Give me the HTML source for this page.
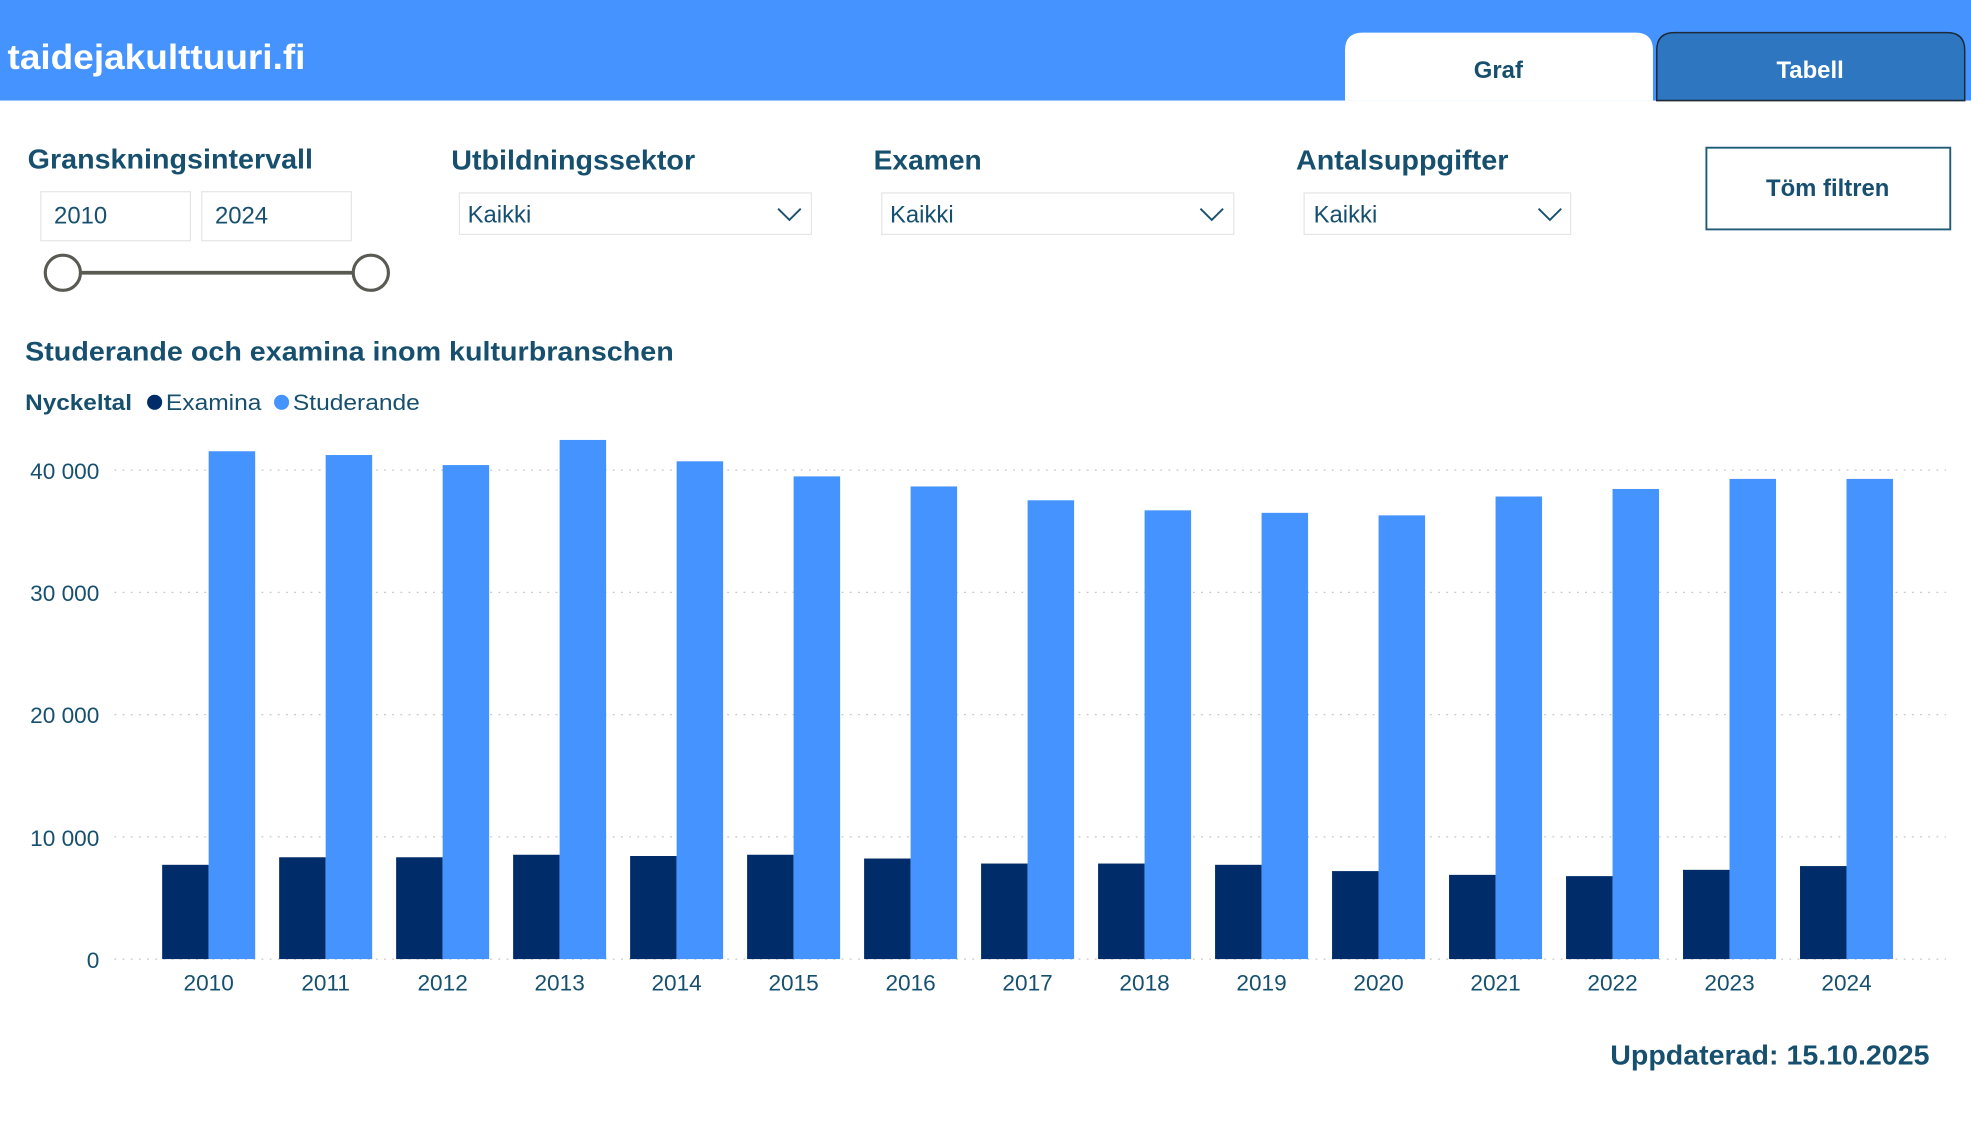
<!DOCTYPE html>
<html><head><meta charset="utf-8"><style>
html,body{margin:0;padding:0;background:#fff;}
svg{display:block;}
text{font-family:"Liberation Sans",Arial,sans-serif;}
</style></head><body>
<svg width="1971" height="1125" viewBox="0 0 1568 895" preserveAspectRatio="none" xmlns="http://www.w3.org/2000/svg">
<rect x="0" y="0" width="1568" height="80" fill="#4493FF"/>
<text x="6" y="55" font-size="28" font-weight="bold" fill="#fff" textLength="237" lengthAdjust="spacingAndGlyphs">taidejakulttuuri.fi</text>
<path d="M1070 80 V40 Q1070 26 1084 26 H1301 Q1315 26 1315 40 V80 Z" fill="#fff"/>
<text x="1192" y="62" font-size="19" font-weight="bold" fill="#17506F" text-anchor="middle">Graf</text>
<path d="M1318 80 V40 Q1318 26 1332 26 H1549 Q1563 26 1563 40 V80 Z" fill="#2E76C0" stroke="#1c2a3a" stroke-width="1.2"/>
<text x="1440" y="62" font-size="19" font-weight="bold" fill="#fff" text-anchor="middle">Tabell</text>

<g fill="#17506F" font-weight="bold" font-size="22">
<text x="22" y="134" textLength="227" lengthAdjust="spacingAndGlyphs">Granskningsintervall</text>
<text x="359" y="135" textLength="194" lengthAdjust="spacingAndGlyphs">Utbildningssektor</text>
<text x="695" y="135" textLength="86" lengthAdjust="spacingAndGlyphs">Examen</text>
<text x="1031" y="135" textLength="169" lengthAdjust="spacingAndGlyphs">Antalsuppgifter</text>
</g>
<rect x="32.5" y="152.5" width="119" height="39" fill="#fff" stroke="#e6e6e6"/>
<rect x="160.5" y="152.5" width="119" height="39" fill="#fff" stroke="#e6e6e6"/>
<text x="43" y="178" font-size="19" fill="#17506F">2010</text>
<text x="171" y="178" font-size="19" fill="#17506F">2024</text>
<line x1="64" y1="217" x2="281" y2="217" stroke="#5a5a55" stroke-width="3"/>
<circle cx="50" cy="217" r="14" fill="#fff" stroke="#5a5a55" stroke-width="2.5"/>
<circle cx="295" cy="217" r="14" fill="#fff" stroke="#5a5a55" stroke-width="2.5"/>

<g font-size="19" fill="#17506F">
<rect x="365.5" y="153.5" width="280" height="33" fill="#fff" stroke="#e6e6e6"/>
<text x="372" y="177">Kaikki</text>
<polyline points="619,166 628,175 637,166" fill="none" stroke="#17506F" stroke-width="1.5"/>
<rect x="701.5" y="153.5" width="280" height="33" fill="#fff" stroke="#e6e6e6"/>
<text x="708" y="177">Kaikki</text>
<polyline points="955,166 964,175 973,166" fill="none" stroke="#17506F" stroke-width="1.5"/>
<rect x="1037.5" y="153.5" width="212" height="33" fill="#fff" stroke="#e6e6e6"/>
<text x="1045" y="177">Kaikki</text>
<polyline points="1224,166 1233,175 1242,166" fill="none" stroke="#17506F" stroke-width="1.5"/>
</g>
<rect x="1357.5" y="117.5" width="194" height="65" fill="#fff" stroke="#1f5a78" stroke-width="1.5"/>
<text x="1454" y="156" font-size="19" font-weight="bold" fill="#17506F" text-anchor="middle">Töm filtren</text>

<text x="20" y="287" font-size="21" font-weight="bold" fill="#17506F" textLength="516" lengthAdjust="spacingAndGlyphs">Studerande och examina inom kulturbranschen</text>
<text x="20" y="326" font-size="18" font-weight="bold" fill="#17506F" textLength="85" lengthAdjust="spacingAndGlyphs">Nyckeltal</text>
<circle cx="123" cy="320" r="6" fill="#002D6A"/>
<text x="132" y="326" font-size="18" fill="#17506F" textLength="76" lengthAdjust="spacingAndGlyphs">Examina</text>
<circle cx="224" cy="320" r="6" fill="#4493FF"/>
<text x="233" y="326" font-size="18" fill="#17506F" textLength="101" lengthAdjust="spacingAndGlyphs">Studerande</text>

<g stroke="#c8c8c8" stroke-width="1" stroke-dasharray="1.5,5">
<line x1="91" y1="374" x2="1548" y2="374"/>
<line x1="91" y1="471.25" x2="1548" y2="471.25"/>
<line x1="91" y1="568.5" x2="1548" y2="568.5"/>
<line x1="91" y1="665.75" x2="1548" y2="665.75"/>
<line x1="91" y1="763" x2="1548" y2="763"/>
</g>
<g font-size="18" fill="#17506F" text-anchor="end">
<text x="79" y="381">40 000</text>
<text x="79" y="478">30 000</text>
<text x="79" y="575">20 000</text>
<text x="79" y="673">10 000</text>
<text x="79" y="770">0</text>
</g>
<g fill="#002D6A">
<rect x="129" y="688" width="37" height="75"/>
<rect x="222.07" y="682" width="37" height="81"/>
<rect x="315.14" y="682" width="37" height="81"/>
<rect x="408.21" y="680" width="37" height="83"/>
<rect x="501.28" y="681" width="37" height="82"/>
<rect x="594.35" y="680" width="37" height="83"/>
<rect x="687.42" y="683" width="37" height="80"/>
<rect x="780.49" y="687" width="37" height="76"/>
<rect x="873.56" y="687" width="37" height="76"/>
<rect x="966.63" y="688" width="37" height="75"/>
<rect x="1059.7" y="693" width="37" height="70"/>
<rect x="1152.77" y="696" width="37" height="67"/>
<rect x="1245.84" y="697" width="37" height="66"/>
<rect x="1338.91" y="692" width="37" height="71"/>
<rect x="1431.98" y="689" width="37" height="74"/>
</g>
<g fill="#4493FF">
<rect x="166" y="359" width="37" height="404"/>
<rect x="259.07" y="362" width="37" height="401"/>
<rect x="352.14" y="370" width="37" height="393"/>
<rect x="445.21" y="350" width="37" height="413"/>
<rect x="538.28" y="367" width="37" height="396"/>
<rect x="631.35" y="379" width="37" height="384"/>
<rect x="724.42" y="387" width="37" height="376"/>
<rect x="817.49" y="398" width="37" height="365"/>
<rect x="910.56" y="406" width="37" height="357"/>
<rect x="1003.63" y="408" width="37" height="355"/>
<rect x="1096.7" y="410" width="37" height="353"/>
<rect x="1189.77" y="395" width="37" height="368"/>
<rect x="1282.84" y="389" width="37" height="374"/>
<rect x="1375.91" y="381" width="37" height="382"/>
<rect x="1468.98" y="381" width="37" height="382"/>
</g>
<g font-size="18" fill="#17506F" text-anchor="middle">
<text x="166" y="788">2010</text><text x="259.07" y="788">2011</text><text x="352.14" y="788">2012</text>
<text x="445.21" y="788">2013</text><text x="538.28" y="788">2014</text><text x="631.35" y="788">2015</text>
<text x="724.42" y="788">2016</text><text x="817.49" y="788">2017</text><text x="910.56" y="788">2018</text>
<text x="1003.63" y="788">2019</text><text x="1096.7" y="788">2020</text><text x="1189.77" y="788">2021</text>
<text x="1282.84" y="788">2022</text><text x="1375.91" y="788">2023</text><text x="1468.98" y="788">2024</text>
</g>
<text x="1281" y="847" font-size="22" font-weight="bold" fill="#17506F" textLength="254" lengthAdjust="spacingAndGlyphs">Uppdaterad: 15.10.2025</text>
</svg>
</body></html>
